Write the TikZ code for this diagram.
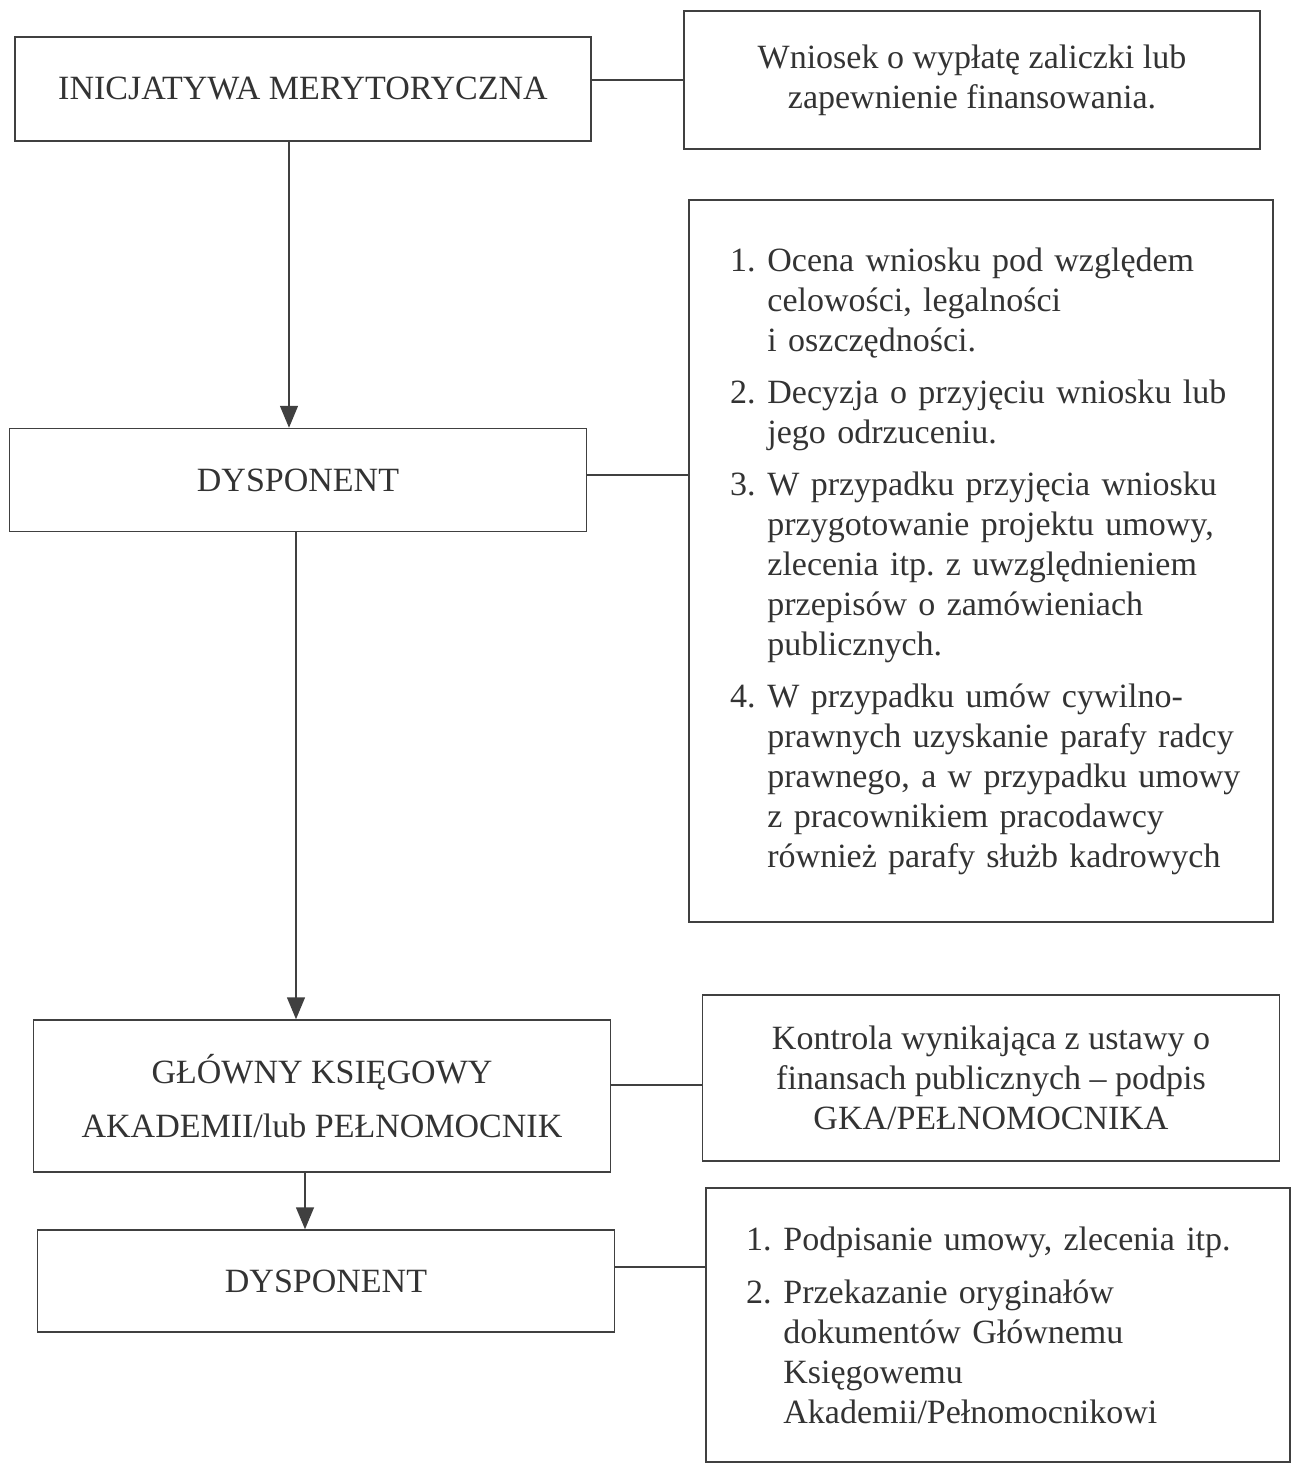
\documentclass[tikz,border=0pt]{standalone}
\usepackage{fontspec}
\setmainfont{Liberation Serif}
\usetikzlibrary{arrows.meta}
\frenchspacing
\newcommand{\punkt}[2]{\hangindent=1.1em\hangafter=1\noindent\makebox[1.1em][l]{#1.}#2\par}

\begin{document}
\begin{tikzpicture}[x=1pt,y=1pt,yscale=-1,
  ramka/.style={draw=black!75,line width=1.5pt,inner sep=0pt,align=center,text=black!80,font=\fontsize{34}{40}\selectfont},
  lista/.style={ramka,align=left,inner xsep=12pt,text width=560},
  strzalka/.style={draw=black!75,line width=1.5pt,-{Triangle[width=18pt,length=22pt]}},
  linia/.style={draw=black!75,line width=1.5pt}]
\useasboundingbox (0,0) rectangle (1293,1464);

% lewa kolumna
\node[ramka,minimum width=576,minimum height=104] (inicjatywa) at (303,89) {INICJATYWA MERYTORYCZNA};
\node[ramka,minimum width=577,minimum height=103] (dysponent) at (298,480) {DYSPONENT};
\node[ramka,minimum width=577,minimum height=152] (ksiegowy) at (322,1096) {GŁÓWNY KSIĘGOWY\\[14pt]AKADEMII/lub PEŁNOMOCNIK};
\node[ramka,minimum width=577,minimum height=102] (dysponent2) at (326,1281) {DYSPONENT};

% prawa kolumna
\node[ramka,minimum width=576,minimum height=138] (wniosek) at (972,80) {Wniosek o wypłatę zaliczki lub\\zapewnienie finansowania.};
\node[lista,minimum height=722] (ocena) at (981,561) {\setlength{\parskip}{12pt}\setlength{\leftskip}{29pt}%
\punkt{1}{Ocena wniosku pod względem\newline celowości, legalności\newline i oszczędności.}
\punkt{2}{Decyzja o przyjęciu wniosku lub\newline jego odrzuceniu.}
\punkt{3}{W przypadku przyjęcia wniosku\newline przygotowanie projektu umowy,\newline zlecenia itp. z uwzględnieniem\newline przepisów o zamówieniach\newline publicznych.}
\punkt{4}{W przypadku umów cywilno-\newline prawnych uzyskanie parafy radcy\newline prawnego, a w przypadku umowy\newline z pracownikiem pracodawcy\newline również parafy służb kadrowych}};
\node[ramka,minimum width=577,minimum height=166] (kontrola) at (991,1078) {Kontrola wynikająca z ustawy o\\finansach publicznych -- podpis\\GKA/PEŁNOMOCNIKA};
\node[lista,minimum height=274] (podpisanie) at (998,1325) {\setlength{\parskip}{13pt}\setlength{\leftskip}{28pt}%
\punkt{1}{Podpisanie umowy, zlecenia itp.}
\punkt{2}{Przekazanie oryginałów\newline dokumentów Głównemu\newline Księgowemu\newline Akademii/Pełnomocnikowi}};

% strzalki
\draw[strzalka] ([xshift=-14]inicjatywa.south) -- ([xshift=-9]dysponent.north);
\draw[strzalka] ([xshift=-2]dysponent.south) -- ([xshift=-26]ksiegowy.north);
\draw[strzalka] ([xshift=-17]ksiegowy.south) -- ([xshift=-21]dysponent2.north);

% polaczenia
\draw[linia] (inicjatywa.east |- wniosek.west) -- (wniosek.west);
\draw[linia] ([yshift=-5]dysponent.east) -- ([yshift=-5]dysponent.east -| ocena.west);
\draw[linia] ([yshift=-11]ksiegowy.east) -- ([yshift=-11]ksiegowy.east -| kontrola.west);
\draw[linia] ([yshift=-14]dysponent2.east) -- ([yshift=-14]dysponent2.east -| podpisanie.west);

\end{tikzpicture}
\end{document}
